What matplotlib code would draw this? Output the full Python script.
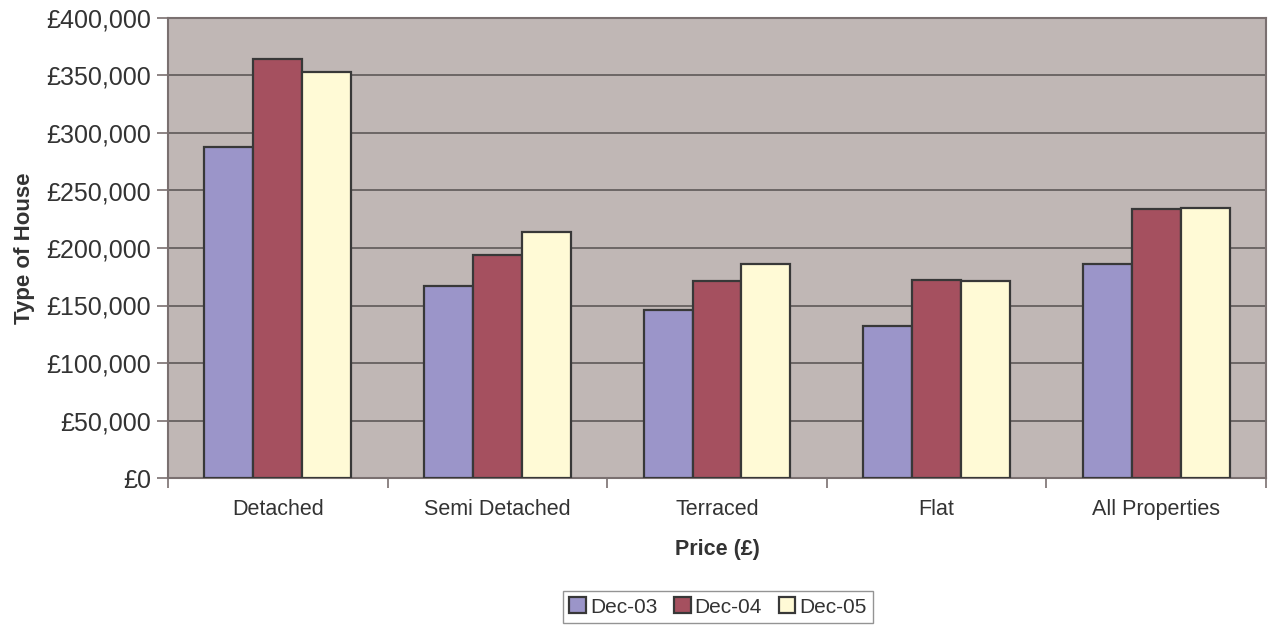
import matplotlib.pyplot as plt
from matplotlib.ticker import FuncFormatter, FixedLocator
import numpy as np

plt.rcParams['font.family'] = ['Liberation Sans', 'DejaVu Sans']

categories = ["Detached", "Semi Detached", "Terraced", "Flat", "All Properties"]
series_names = ["Dec-03", "Dec-04", "Dec-05"]
dec03 = [288000, 167000, 146000, 132000, 186000]
dec04 = [364000, 194000, 171000, 172000, 234000]
dec05 = [353000, 214000, 186000, 171000, 234500]
colors = ["#9B95C9", "#A5505F", "#FFFAD6"]

fig = plt.figure(figsize=(12.68, 6.26), dpi=100)
ax = fig.add_axes([168 / 1268, 1 - 478 / 626, 1098 / 1268, 460 / 626])
ax.set_facecolor("#C0B7B5")

x = np.arange(len(categories))
w = 0.223
for i, (vals, name) in enumerate(zip([dec03, dec04, dec05], series_names)):
    ax.bar(x + (i - 1) * w, vals, w, color=colors[i], edgecolor="#383838",
           linewidth=1.6, label=name, zorder=3)

ax.set_ylim(0, 400000)
ax.set_xlim(-0.5, len(categories) - 0.5)
ax.set_yticks(np.arange(0, 400001, 50000))
ax.yaxis.set_major_formatter(FuncFormatter(lambda v, p: "£{:,.0f}".format(v)))
ax.yaxis.grid(True, color="#555050", linewidth=1.1, zorder=1)
ax.set_axisbelow(True)

ax.set_xticks(x)
ax.set_xticklabels(categories)
ax.xaxis.set_minor_locator(FixedLocator(np.arange(-0.5, len(categories), 1.0)))
ax.tick_params(axis="x", which="major", length=0, pad=15, labelsize=15.5, labelcolor="#333333")
ax.tick_params(axis="x", which="minor", length=7, color="#7A7070", width=1.2)
ax.tick_params(axis="y", length=8, color="#7A7070", width=1.2, labelsize=18, labelcolor="#333333", pad=4)

for s in ax.spines.values():
    s.set_color("#7A7070")
    s.set_linewidth(1.5)

ax.set_xlabel("Price (£)", fontsize=15.5, fontweight="bold", color="#333333", labelpad=14)
ax.set_ylabel("Type of House", fontsize=16, fontweight="bold", color="#333333", labelpad=8)

leg = fig.legend(loc="center", bbox_to_anchor=(718 / 1268, 1 - 607 / 626), ncol=3,
                 fontsize=15, frameon=True, fancybox=False, handlelength=0.8,
                 handleheight=0.8, handletextpad=0.2, columnspacing=0.8,
                 borderpad=0.3, edgecolor="#7A7A7A")
leg.get_frame().set_linewidth(1.0)
for t in leg.get_texts():
    t.set_color("#333333")

fig.savefig("out.png", dpi=100)
